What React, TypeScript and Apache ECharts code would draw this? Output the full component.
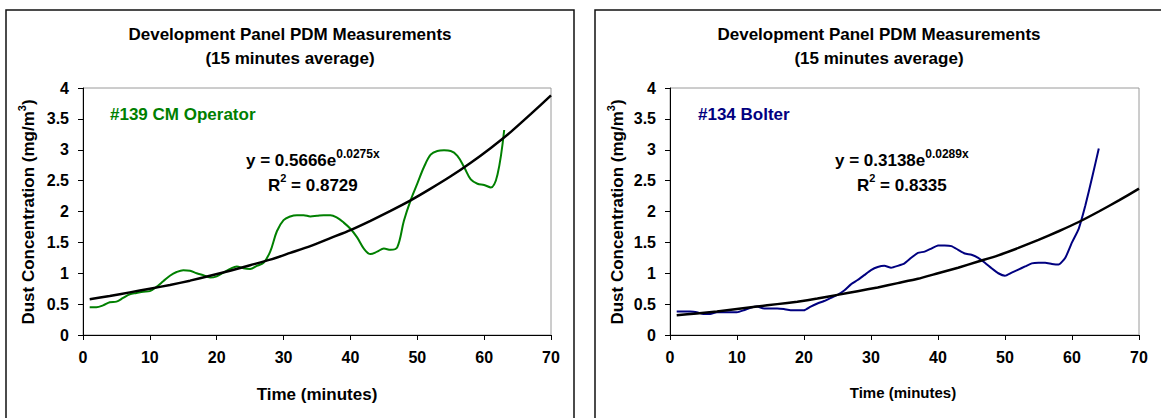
import React, { useEffect, useRef } from 'react';
import * as echarts from 'echarts';

const minutesA = [1, 2, 3, 4, 5, 6, 7, 8, 9, 10, 11, 12, 13, 14, 15, 16, 17, 18, 19, 20, 21, 22, 23, 24, 25, 26, 27, 28, 29, 30, 31, 32, 33, 34, 35, 36, 37, 38, 39, 40, 41, 42, 43, 44, 45, 46, 47, 48, 49, 50, 51, 52, 53, 54, 55, 56, 57, 58, 59, 60, 61, 62, 63];
const cmOperator = [0.45, 0.45, 0.48, 0.53, 0.54, 0.6, 0.66, 0.68, 0.7, 0.71, 0.78, 0.87, 0.96, 1.02, 1.05, 1.04, 1.0, 0.97, 0.93, 0.95, 1.01, 1.07, 1.11, 1.08, 1.07, 1.12, 1.17, 1.35, 1.68, 1.86, 1.92, 1.94, 1.94, 1.92, 1.93, 1.94, 1.94, 1.9, 1.82, 1.72, 1.58, 1.4, 1.31, 1.35, 1.4, 1.38, 1.42, 1.85, 2.18, 2.45, 2.72, 2.92, 2.98, 2.99, 2.98, 2.9, 2.72, 2.52, 2.45, 2.43, 2.39, 2.6, 3.32];

const minutesB = [1, 2, 3, 4, 5, 6, 7, 8, 9, 10, 11, 12, 13, 14, 15, 16, 17, 18, 19, 20, 21, 22, 23, 24, 25, 26, 27, 28, 29, 30, 31, 32, 33, 34, 35, 36, 37, 38, 39, 40, 41, 42, 43, 44, 45, 46, 47, 48, 49, 50, 51, 52, 53, 54, 55, 56, 57, 58, 59, 60, 61, 62, 63, 64];
const bolter = [0.38, 0.38, 0.38, 0.37, 0.34, 0.34, 0.37, 0.37, 0.37, 0.37, 0.4, 0.44, 0.46, 0.43, 0.43, 0.43, 0.42, 0.4, 0.4, 0.4, 0.46, 0.51, 0.55, 0.6, 0.65, 0.72, 0.82, 0.89, 0.97, 1.05, 1.1, 1.12, 1.09, 1.12, 1.16, 1.25, 1.33, 1.35, 1.4, 1.45, 1.45, 1.44, 1.38, 1.32, 1.3, 1.25, 1.17, 1.08, 1.0, 0.96, 1.01, 1.06, 1.11, 1.16, 1.17, 1.17, 1.15, 1.14, 1.25, 1.5, 1.72, 2.1, 2.55, 3.02];

const trendX = [1, 4, 7, 10, 13, 16, 19, 22, 25, 28, 31, 34, 37, 40, 43, 46, 49, 52, 55, 58, 61, 64, 67, 70];
const trendA = [0.58, 0.63, 0.69, 0.75, 0.81, 0.88, 0.96, 1.04, 1.13, 1.22, 1.33, 1.44, 1.57, 1.7, 1.85, 2.01, 2.18, 2.37, 2.57, 2.79, 3.03, 3.29, 3.58, 3.88];
const trendB = [0.32, 0.35, 0.38, 0.42, 0.46, 0.5, 0.54, 0.59, 0.65, 0.71, 0.77, 0.84, 0.91, 1.0, 1.09, 1.19, 1.29, 1.41, 1.54, 1.68, 1.83, 2.0, 2.18, 2.37];

const chartTitle = 'Development Panel PDM Measurements';
const chartSubtitle = '(15 minutes average)';
const labelA = '#139 CM Operator';
const labelB = '#134 Bolter';
const eqA = ['0.5666', '0.0275x', '0.8729'];
const eqB = ['0.3138', '0.0289x', '0.8335'];

const FONT = '"Liberation Sans", Arial, Helvetica, sans-serif';
const GREEN = '#008000';
const NAVY = '#000080';

function pairs(xs: number[], ys: number[]) {
  return xs.map((x, i) => [x, ys[i]]);
}

function txt(x: number, y: number, text: string, size: number, color = '#000', align = 'center') {
  return {
    type: 'text',
    x,
    y,
    silent: true,
    z: 10,
    style: {
      text,
      fill: color,
      fontFamily: FONT,
      fontWeight: 'bold',
      fontSize: size,
      align,
      verticalAlign: 'middle',
      textAlign: align,
      textVerticalAlign: 'middle',
    },
  };
}

function sup(size: number, pad: number) {
  return {
    fontFamily: FONT,
    fontWeight: 'bold',
    fontSize: size,
    fill: '#000',
    verticalAlign: 'top',
    padding: [0, 0, pad, 0],
  };
}

function makeAxes(gridIndex: number) {
  const xAxis = {
    type: 'value',
    gridIndex,
    min: 0,
    max: 70,
    interval: 10,
    axisLine: { show: true, onZero: false, lineStyle: { color: '#000', width: 1 } },
    axisTick: { show: true, inside: false, length: 5, lineStyle: { color: '#000' } },
    axisLabel: { color: '#000', fontFamily: FONT, fontWeight: 'bold', fontSize: 16, margin: 14 },
    splitLine: { show: false },
  };
  const yAxis = {
    type: 'value',
    gridIndex,
    min: 0,
    max: 4,
    interval: 0.5,
    axisLine: { show: true, onZero: false, lineStyle: { color: '#000', width: 1 } },
    axisTick: { show: true, inside: false, length: 5, lineStyle: { color: '#000' } },
    axisLabel: { color: '#000', fontFamily: FONT, fontWeight: 'bold', fontSize: 16, margin: 14 },
    splitLine: { show: false },
  };
  return { xAxis, yAxis };
}

function panelGraphics(dx: number, label: string, labelX: number, labelColor: string, eq: string[], xNameSize: number, xNameX: number, xNameY: number) {
  return [
    {
      type: 'rect',
      shape: { x: dx + 6, y: 10, width: 568, height: 430 },
      style: { fill: 'none', stroke: '#111', lineWidth: 1.5 },
      silent: true,
      z: 1,
    },
    txt(dx + 290, 34, chartTitle, 17),
    txt(dx + 290, 58, chartSubtitle, 17),
    txt(labelX, 114, label, 17, labelColor, 'left'),
    {
      type: 'text',
      x: dx + 246,
      y: 160,
      z: 10,
      silent: true,
      style: {
        text: 'y = ' + eq[0] + 'e{s|' + eq[1] + '}',
        fontFamily: FONT,
        fontWeight: 'bold',
        fontSize: 17,
        fill: '#000',
        align: 'left',
        verticalAlign: 'middle',
        textAlign: 'left',
        textVerticalAlign: 'middle',
        rich: { s: sup(12, 12) },
      },
    },
    {
      type: 'text',
      x: dx + 268,
      y: 185,
      z: 10,
      silent: true,
      style: {
        text: 'R{s|2} = ' + eq[2],
        fontFamily: FONT,
        fontWeight: 'bold',
        fontSize: 17,
        fill: '#000',
        align: 'left',
        verticalAlign: 'middle',
        textAlign: 'left',
        textVerticalAlign: 'middle',
        rich: { s: sup(11, 14) },
      },
    },
    {
      type: 'text',
      x: dx + 28,
      y: 212,
      rotation: Math.PI / 2,
      z: 10,
      silent: true,
      style: {
        text: 'Dust Concentration (mg/m{s|3})',
        fontFamily: FONT,
        fontWeight: 'bold',
        fontSize: 17,
        fill: '#000',
        align: 'center',
        verticalAlign: 'middle',
        textAlign: 'center',
        textVerticalAlign: 'middle',
        rich: { s: sup(11, 12) },
      },
    },
    txt(xNameX, xNameY, 'Time (minutes)', xNameSize),
  ];
}

export default function App() {
  const ref = useRef<HTMLDivElement>(null);
  useEffect(() => {
    if (!ref.current) return;
    const chart = echarts.init(ref.current, undefined, { renderer: 'svg' });
    const a0 = makeAxes(0);
    const a1 = makeAxes(1);
    const option: any = {
      animation: false,
      backgroundColor: '#fff',
      grid: [
        { left: 83, top: 88, width: 468, height: 247, show: true, borderColor: '#9a9a9a', borderWidth: 1, backgroundColor: 'transparent' },
        { left: 670, top: 88, width: 469, height: 247, show: true, borderColor: '#9a9a9a', borderWidth: 1, backgroundColor: 'transparent' },
      ],
      xAxis: [a0.xAxis, a1.xAxis],
      yAxis: [a0.yAxis, a1.yAxis],
      series: [
        {
          type: 'line',
          xAxisIndex: 0,
          yAxisIndex: 0,
          data: pairs(minutesA, cmOperator),
          showSymbol: false,
          smooth: 0.35,
          lineStyle: { color: GREEN, width: 2 },
          z: 3,
        },
        {
          type: 'line',
          xAxisIndex: 0,
          yAxisIndex: 0,
          data: pairs(trendX, trendA),
          showSymbol: false,
          smooth: 0.2,
          lineStyle: { color: '#000', width: 2.5 },
          z: 4,
        },
        {
          type: 'line',
          xAxisIndex: 1,
          yAxisIndex: 1,
          data: pairs(minutesB, bolter),
          showSymbol: false,
          smooth: 0.15,
          lineStyle: { color: NAVY, width: 2 },
          z: 3,
        },
        {
          type: 'line',
          xAxisIndex: 1,
          yAxisIndex: 1,
          data: pairs(trendX, trendB),
          showSymbol: false,
          smooth: 0.2,
          lineStyle: { color: '#000', width: 2.5 },
          z: 4,
        },
      ],
      graphic: [
        ...panelGraphics(0, labelA, 110, GREEN, eqA, 17, 317, 394),
        ...panelGraphics(589, labelB, 698, NAVY, eqB, 15, 903, 392),
      ],
    };
    chart.setOption(option);
    return () => chart.dispose();
  }, []);
  return <div ref={ref} style={{ position: 'absolute', left: 0, top: 0, width: 1161, height: 418 }} />;
}
